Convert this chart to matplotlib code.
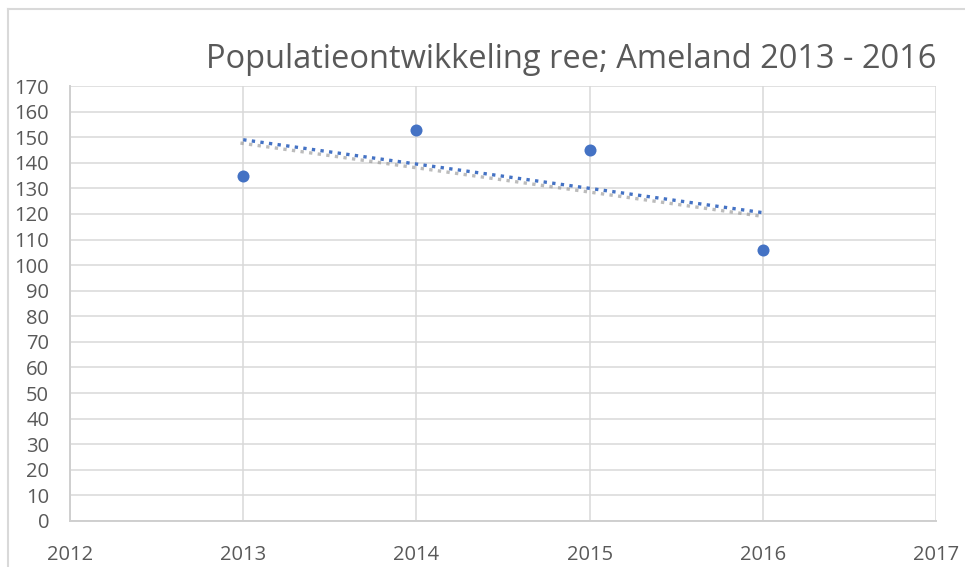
import numpy as np
import matplotlib
matplotlib.use("Agg")
import matplotlib.pyplot as plt
import matplotlib.patheffects as pe
from matplotlib.lines import Line2D

years = [2013, 2014, 2015, 2016]
counts = [135, 153, 145, 106]
title = "Populatieontwikkeling ree; Ameland 2013 - 2016"
x_ticks = [2012, 2013, 2014, 2015, 2016, 2017]
y_ticks = list(range(0, 171, 10))

plt.rcParams['font.family'] = ['Open Sans', 'DejaVu Sans']
text_color = '#595959'
grid_color = '#D9D9D9'
blue = '#4472C4'

fig = plt.figure(figsize=(9.65, 5.67), dpi=100)
ax = fig.add_axes([70/965, 1-521/567, (936-70)/965, (521-86)/567])

ax.scatter(years, counts, s=75, color=blue, zorder=4, linewidths=0)

coef = np.polyfit(years, counts, 1)
tx = np.array([years[0], years[-1]])
ty = np.polyval(coef, tx)
ax.plot(tx, ty, color=blue, linewidth=2.4, linestyle=(0, (1, 1.6)), zorder=3,
        path_effects=[pe.SimpleLineShadow(offset=(-2, -2.4), shadow_color='#909090', alpha=0.6),
                      pe.Normal()])

ax.set_xlim(2012, 2017)
ax.set_ylim(0, 170)
ax.set_xticks(x_ticks)
ax.set_yticks(y_ticks)
ax.tick_params(axis='both', length=0, labelsize=14.5, colors=text_color)
ax.tick_params(axis='x', pad=17)
ax.tick_params(axis='y', pad=15)
ax.grid(True, color=grid_color, linewidth=1.1)
ax.set_axisbelow(True)
for s in ['top', 'right']:
    ax.spines[s].set_visible(False)
for s in ['left', 'bottom']:
    ax.spines[s].set_color('#CFCFCF')
    ax.spines[s].set_linewidth(1.4)

fig.text(571/965, 1-60/567, title, ha='center', va='center', fontsize=23.5, color=text_color)

# outer chart frame
fig.add_artist(Line2D([8/965, 1], [1-9/567, 1-9/567], transform=fig.transFigure, color=grid_color, linewidth=1.5))
fig.add_artist(Line2D([8/965, 8/965], [0, 1-9/567], transform=fig.transFigure, color=grid_color, linewidth=1.5))

fig.savefig("out.png", dpi=100)
